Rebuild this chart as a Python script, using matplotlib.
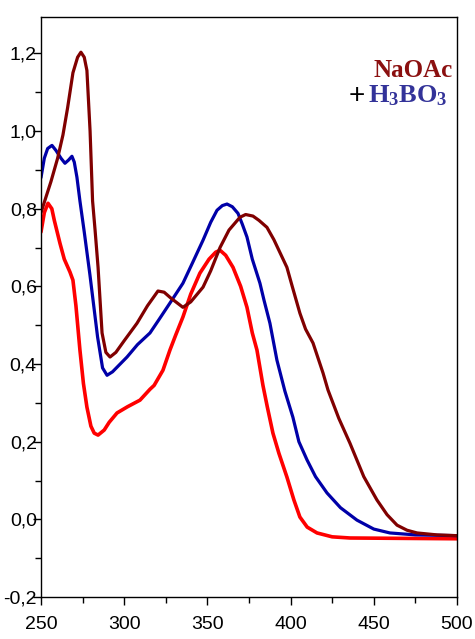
import matplotlib
matplotlib.use("Agg")
import matplotlib.pyplot as plt
from matplotlib.ticker import MultipleLocator

# wavelength (nm) / absorbance
naoac_x = [250, 256, 260, 263.2, 266, 269.2, 272, 274, 276, 277.6, 279.5, 281, 282.5, 284.3,
           286.7, 289, 291.5, 295, 300, 307.7, 314, 320.3, 324, 328, 335.3, 340, 347.4, 352,
           357.6, 363, 369.6, 373, 377.4, 381, 385.8, 390, 397.8, 401, 405.6, 409, 413.5,
           419.5, 422.5, 429, 435.7, 444, 451.9, 458, 464, 470, 476, 488, 500]
naoac_y = [0.79, 0.87, 0.93, 0.99, 1.06, 1.15, 1.19, 1.203, 1.19, 1.156, 1.0, 0.82, 0.745, 0.649,
           0.48, 0.43, 0.418, 0.43, 0.46, 0.505, 0.55, 0.588, 0.585, 0.57, 0.546, 0.56, 0.598, 0.64,
           0.70, 0.745, 0.778, 0.785, 0.781, 0.77, 0.752, 0.72, 0.649, 0.60, 0.531, 0.49, 0.454,
           0.377, 0.333, 0.26, 0.196, 0.11, 0.05, 0.012, -0.015, -0.028, -0.035, -0.04, -0.042]

boric_x = [250, 252, 254, 256.6, 259, 262, 264.4, 266.5, 268.6, 270, 271.6, 273.4, 276, 279.4,
           284, 287, 289.7, 293, 301.7, 308, 315.5, 321, 327.5, 335.3, 341, 347.4, 352, 355.8,
           359, 361.8, 365, 368.4, 371, 373.8, 377, 381.6, 384, 387.6, 391.8, 396.6, 401.4, 405,
           409.9, 415, 421.9, 430, 439.9, 450, 459.7, 475, 500]
boric_y = [0.88, 0.93, 0.955, 0.963, 0.95, 0.93, 0.917, 0.925, 0.935, 0.92, 0.881, 0.82, 0.74, 0.63,
           0.47, 0.39, 0.371, 0.38, 0.418, 0.45, 0.48, 0.515, 0.557, 0.608, 0.66, 0.719, 0.765, 0.796,
           0.808, 0.812, 0.805, 0.788, 0.76, 0.727, 0.67, 0.608, 0.565, 0.505, 0.41, 0.33, 0.263, 0.2,
           0.153, 0.11, 0.068, 0.03, -0.002, -0.025, -0.035, -0.04, -0.042]

free_x = [250, 252, 254.2, 256.5, 258, 261.4, 264, 267.4, 269.2, 271, 273.4, 275.5, 277.6, 280,
          282, 284.3, 288, 291, 295.7, 302, 309.5, 315.5, 318, 323.3, 327.5, 331, 335.3, 340,
          345.5, 351, 355, 357.6, 361, 365.4, 370, 373.8, 377, 379.8, 383.4, 386, 389.4, 393,
          397.8, 402, 405.6, 410, 415.9, 425, 435.7, 500]
free_y = [0.74, 0.79, 0.814, 0.80, 0.77, 0.711, 0.67, 0.637, 0.616, 0.55, 0.436, 0.35, 0.289, 0.24,
          0.222, 0.217, 0.23, 0.25, 0.274, 0.29, 0.307, 0.335, 0.345, 0.384, 0.436, 0.475, 0.521, 0.58,
          0.634, 0.67, 0.688, 0.693, 0.68, 0.649, 0.60, 0.546, 0.48, 0.436, 0.345, 0.29, 0.222, 0.17,
          0.109, 0.05, 0.006, -0.02, -0.035, -0.045, -0.048, -0.05]

x_ticks = [250, 300, 350, 400, 450, 500]
y_ticks = [-0.2, 0.0, 0.2, 0.4, 0.6, 0.8, 1.0, 1.2]
y_labels = ['-0,2', '0,0', '0,2', '0,4', '0,6', '0,8', '1,0', '1,2']

plt.rcParams['mathtext.fontset'] = 'custom'
plt.rcParams['mathtext.rm'] = 'Liberation Serif'
plt.rcParams['mathtext.bf'] = 'Liberation Serif:bold'

fig = plt.figure(figsize=(4.75, 6.39), dpi=100)
ax = fig.add_axes([0.0863, 0.0657, 0.8757, 0.9073])

ax.plot(free_x, free_y, c='#ff0000', lw=2.6, solid_joinstyle='round', solid_capstyle='round')
ax.plot(boric_x, boric_y, c='#0000a8', lw=2.3, solid_joinstyle='round', solid_capstyle='round')
ax.plot(naoac_x, naoac_y, c='#800000', lw=2.3, solid_joinstyle='round', solid_capstyle='round')

ax.set_xlim(250, 500)
ax.set_ylim(-0.2, 1.293)
ax.xaxis.set_minor_locator(MultipleLocator(25))
ax.yaxis.set_minor_locator(MultipleLocator(0.1))
ax.set_xticks(x_ticks)
ax.set_xticklabels([str(t) for t in x_ticks])
ax.set_yticks(y_ticks)
ax.set_yticklabels(y_labels)
ax.tick_params(which='major', direction='out', length=6, width=1)
ax.tick_params(which='minor', direction='out', length=4, width=1)
ax.tick_params(axis='y', which='major', pad=-3)
ax.tick_params(axis='x', which='major', pad=8)
for lab in ax.get_xticklabels() + ax.get_yticklabels():
    lab.set_family('Liberation Sans')
    lab.set_fontsize(14)
for s in ax.spines.values():
    s.set_linewidth(1)

fig.text(0.954, 0.8795, 'NaOAc', color='#8b1010', fontsize=18, fontweight='bold',
         family='Liberation Serif', ha='right', va='baseline')
fig.text(0.733, 0.839, '+', color='black', fontsize=20, family='Liberation Sans',
         ha='left', va='baseline')
fig.text(0.775, 0.839, r'$\mathbf{H_3BO_3}$', color='#333399', fontsize=19,
         ha='left', va='baseline')

fig.savefig('out.png', dpi=100)
